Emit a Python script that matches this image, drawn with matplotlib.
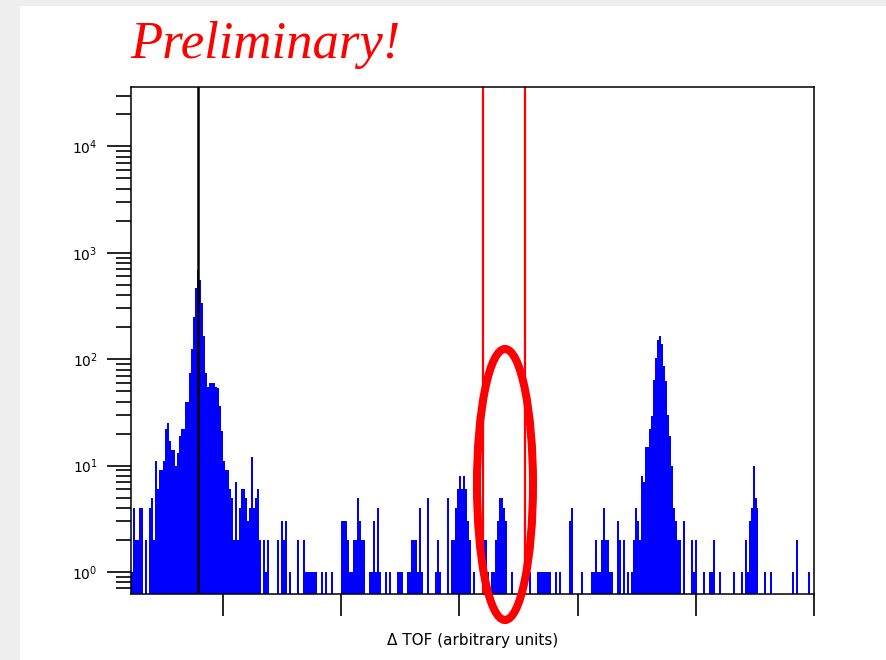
import numpy as np
from matplotlib import pyplot as plt
from matplotlib.patches import Ellipse, Rectangle

# histogram counts per bin, left to right
counts = [
    1, 4, 2, 2, 4, 4, 0, 2, 0, 4,
    5, 2, 11, 6, 9, 9, 11, 22, 25, 17,
    14, 14, 10, 13, 19, 22, 22, 40, 40, 75,
    126, 250, 470, 690, 560, 340, 164, 75, 55, 60,
    60, 60, 55, 54, 36, 21, 11, 9, 9, 6,
    5, 2, 7, 2, 4, 6, 6, 5, 3, 4,
    12, 4, 5, 6, 2, 0, 2, 1, 2, 0,
    0, 0, 0, 2, 0, 3, 2, 3, 0, 1,
    0, 0, 0, 2, 0, 0, 2, 1, 1, 1,
    1, 1, 1, 0, 0, 1, 0, 1, 0, 0,
    1, 0, 0, 0, 0, 3, 3, 3, 2, 1,
    1, 2, 2, 5, 3, 2, 2, 0, 0, 1,
    1, 3, 1, 4, 1, 0, 0, 1, 0, 1,
    0, 0, 0, 1, 1, 1, 0, 0, 1, 1,
    2, 2, 2, 1, 4, 1, 0, 0, 5, 0,
    0, 0, 1, 2, 1, 0, 0, 0, 5, 0,
    2, 2, 4, 6, 8, 6, 8, 6, 3, 2,
    0, 1, 0, 0, 0, 0, 2, 2, 1, 0,
    1, 1, 2, 3, 5, 5, 4, 3, 0, 0,
    1, 0, 0, 0, 0, 0, 0, 0, 0, 1,
    0, 0, 0, 1, 1, 1, 1, 1, 1, 1,
    0, 0, 1, 0, 1, 0, 0, 0, 0, 3,
    4, 0, 0, 0, 0, 1, 0, 0, 0, 0,
    1, 1, 2, 1, 1, 2, 4, 2, 2, 1,
    1, 0, 0, 3, 2, 0, 2, 0, 1, 0,
    1, 2, 4, 3, 2, 8, 7, 15, 15, 22,
    29, 64, 103, 151, 164, 140, 86, 62, 30, 19,
    10, 4, 3, 2, 2, 0, 3, 0, 0, 0,
    2, 1, 2, 0, 0, 0, 1, 0, 0, 1,
    1, 2, 0, 0, 1, 0, 0, 0, 0, 0,
    0, 1, 0, 0, 0, 1, 0, 2, 1, 3,
    4, 10, 5, 4, 0, 0, 0, 1, 0, 0,
    1, 0, 0, 0, 0, 0, 0, 0, 0, 0,
    0, 1, 0, 2, 0, 0, 0, 0, 0, 1,
]

x_start, x_stop = 22.2, 600.0   # axis range (arbitrary units)
bin_w = 1.6906
tick_pos = [100, 200, 300, 400, 500, 600]
black_line = 79.3
red_lines = [319.8, 355.3]

edges = x_start + bin_w * np.arange(len(counts) + 1)

fig = plt.figure(figsize=(8.87, 6.6), dpi=100)
fig.patch.set_facecolor('#eeeeee')
fig.add_artist(Rectangle((20 / 887, 0), 1, 1 - 6 / 660, transform=fig.transFigure,
                         facecolor='white', edgecolor='none', zorder=0))

ax = fig.add_axes([131 / 887, 1 - 594 / 660, 683 / 887, 507 / 660])
ax.bar(edges[:-1], counts, width=bin_w, align='edge', color='#0000ff', linewidth=0)
ax.set_yscale('log')
ax.set_xlim(x_start, x_stop)
ax.set_ylim(0.621, 36200)

ax.axvline(black_line, color='black', lw=1.8)
for xr in red_lines:
    ax.axvline(xr, color='#ff0000', lw=1.6)

ax.set_xticks(tick_pos)
ax.tick_params(axis='x', which='major', direction='out', length=16, width=1.2, labelbottom=False)
ax.tick_params(axis='x', which='minor', bottom=False)
ax.tick_params(axis='y', which='major', direction='out', length=17, width=1.2, labelsize=10, pad=7)
ax.tick_params(axis='y', which='minor', direction='out', length=11, width=1.2)
for s in ax.spines.values():
    s.set_linewidth(1.1)

ax.set_xlabel('\u0394 TOF (arbitrary units)', fontsize=11, labelpad=12)

# red ring drawn over the plot
fig.add_artist(Ellipse((505 / 887, 1 - 484.5 / 660), 56 / 887, 271 / 660,
                       transform=fig.transFigure, fill=False,
                       edgecolor='#ff0000', lw=5.8, zorder=10))

fig.text(130 / 887, 1 - 58 / 660, 'Preliminary!', color='#ff0000', fontsize=38,
         family='Liberation Serif', style='italic', va='baseline')

fig.savefig('out.png', dpi=100, facecolor=fig.get_facecolor())
